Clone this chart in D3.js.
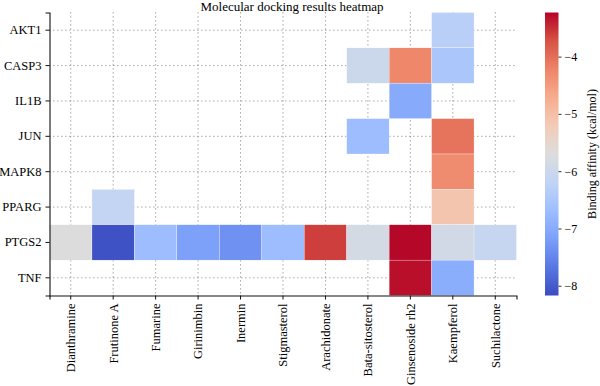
<!DOCTYPE html>
<html>
<head>
<meta charset="utf-8">
<script src="https://cdn.jsdelivr.net/npm/d3@7"></script>
<style>
  body { margin: 0; background: #fff; }
  svg text { font-family: "Liberation Serif", "DejaVu Serif", serif; fill: #000; }
</style>
</head>
<body>
<div id="heatmap"></div>
<script>
var compounds = ["Dianthramine", "Frutinone A", "Fumarine", "Girinimbin", "Inermin",
    "Stigmasterol", "Arachidonate", "Bata-sitosterol", "Ginsenoside rh2", "Kaempferol", "Suchilactone"];
var targets = ["AKT1", "CASP3", "IL1B", "JUN", "MAPK8", "PPARG", "PTGS2", "TNF"];

// [target, compound, binding affinity]
var dockingResults = [
    ["AKT1", "Kaempferol", -6.3],
    ["CASP3", "Bata-sitosterol", -6.0],
    ["CASP3", "Ginsenoside rh2", -4.25],
    ["CASP3", "Kaempferol", -6.5],
    ["IL1B", "Ginsenoside rh2", -7.0],
    ["JUN", "Bata-sitosterol", -6.7],
    ["JUN", "Kaempferol", -4.05],
    ["MAPK8", "Kaempferol", -4.3],
    ["PPARG", "Frutinone A", -6.15],
    ["PPARG", "Kaempferol", -5.1],
    ["PTGS2", "Dianthramine", -5.7],
    ["PTGS2", "Frutinone A", -8.1],
    ["PTGS2", "Fumarine", -6.7],
    ["PTGS2", "Girinimbin", -7.15],
    ["PTGS2", "Inermin", -7.35],
    ["PTGS2", "Stigmasterol", -6.7],
    ["PTGS2", "Arachidonate", -3.6],
    ["PTGS2", "Bata-sitosterol", -5.85],
    ["PTGS2", "Ginsenoside rh2", -3.25],
    ["PTGS2", "Kaempferol", -5.9],
    ["PTGS2", "Suchilactone", -6.1],
    ["TNF", "Ginsenoside rh2", -3.3],
    ["TNF", "Kaempferol", -6.95]
];
var colorbarTicks = [-8, -7, -6, -5, -4];
var affinityRange = [-8.17, -3.23];

// coolwarm
var coolwarm = d3.piecewise(d3.interpolateRgb, ["#3b4cc0", "#5977e3", "#7b9ff9", "#9ebeff", "#c0d4f5",
    "#dddcdc", "#f2cbb7", "#f7ac8e", "#ee8468", "#d65244", "#b40426"]);

var W = 600, H = 386;
var margin = {top: 12.5, left: 49.5, right: 83.5, bottom: 90.5};
var plotW = W - margin.left - margin.right,
    plotH = H - margin.top - margin.bottom;

var svg = d3.select("#heatmap").append("svg")
    .attr("width", W)
    .attr("height", H);

var g = svg.append("g")
    .attr("transform", "translate(" + margin.left + "," + margin.top + ")");

var x = d3.scaleBand().domain(compounds).range([0, plotW]);
var y = d3.scaleBand().domain(targets).range([0, plotH]);
var color = d3.scaleSequential(coolwarm).domain(affinityRange);

// dotted grid behind the cells
g.append("g").selectAll("line")
    .data(compounds)
    .enter().append("line")
    .attr("x1", d => x(d) + x.bandwidth() / 2)
    .attr("x2", d => x(d) + x.bandwidth() / 2)
    .attr("y1", 0).attr("y2", plotH)
    .attr("stroke", "#333").attr("stroke-width", 0.8)
    .attr("stroke-dasharray", "0.8,3.2");
g.append("g").selectAll("line")
    .data(targets)
    .enter().append("line")
    .attr("y1", d => y(d) + y.bandwidth() / 2)
    .attr("y2", d => y(d) + y.bandwidth() / 2)
    .attr("x1", 0).attr("x2", plotW)
    .attr("stroke", "#333").attr("stroke-width", 0.8)
    .attr("stroke-dasharray", "0.8,3.2");

// cells
g.append("g").selectAll("rect")
    .data(dockingResults)
    .enter().append("rect")
    .attr("x", d => x(d[1]))
    .attr("y", d => y(d[0]))
    .attr("width", x.bandwidth())
    .attr("height", y.bandwidth())
    .attr("fill", d => color(d[2]))
    .attr("stroke", "#fff")
    .attr("stroke-width", 0.3);

// axes
var xAxis = g.append("g")
    .attr("transform", "translate(0," + plotH + ")")
    .call(d3.axisBottom(x).tickSize(4).tickPadding(6));
xAxis.selectAll("text")
    .attr("transform", "rotate(-90)")
    .attr("x", -8).attr("y", 0).attr("dy", "0.35em")
    .style("text-anchor", "end")
    .style("font-size", "12.5px");

var yAxis = g.append("g")
    .call(d3.axisLeft(y).tickSize(4).tickPadding(4));
yAxis.selectAll("text").style("font-size", "12.5px");

[xAxis, yAxis].forEach(function(a) {
    a.select(".domain").attr("stroke", "#111").attr("stroke-width", 1.1);
    a.selectAll(".tick line").attr("stroke", "#111");
});

// title
svg.append("text")
    .attr("x", 292).attr("y", 11)
    .style("text-anchor", "middle")
    .style("font-size", "13px")
    .text("Molecular docking results heatmap");

// colorbar
var cbX = 545, cbW = 13.5;
var cbScale = d3.scaleLinear().domain(affinityRange).range([margin.top + plotH, margin.top]);

var grad = svg.append("defs").append("linearGradient")
    .attr("id", "cbGrad")
    .attr("x1", 0).attr("y1", 1).attr("x2", 0).attr("y2", 0);
d3.range(0, 1.0001, 0.05).forEach(function(t) {
    grad.append("stop")
        .attr("offset", t)
        .attr("stop-color", coolwarm(t));
});
svg.append("rect")
    .attr("x", cbX).attr("y", margin.top)
    .attr("width", cbW).attr("height", plotH)
    .attr("fill", "url(#cbGrad)");

var cbAxis = svg.append("g")
    .attr("transform", "translate(" + (cbX + cbW) + ",0)")
    .call(d3.axisRight(cbScale).tickValues(colorbarTicks).tickSize(3).tickPadding(3)
        .tickFormat(d => "\u2212" + Math.abs(d)));
cbAxis.select(".domain").remove();
cbAxis.selectAll(".tick line").attr("stroke", "#333");
cbAxis.selectAll("text").style("font-size", "12px");

svg.append("text")
    .attr("transform", "translate(596," + (margin.top + plotH / 2) + ") rotate(-90)")
    .style("text-anchor", "middle")
    .style("font-size", "12px")
    .text("Binding affinity (kcal/mol)");
</script>
</body>
</html>
